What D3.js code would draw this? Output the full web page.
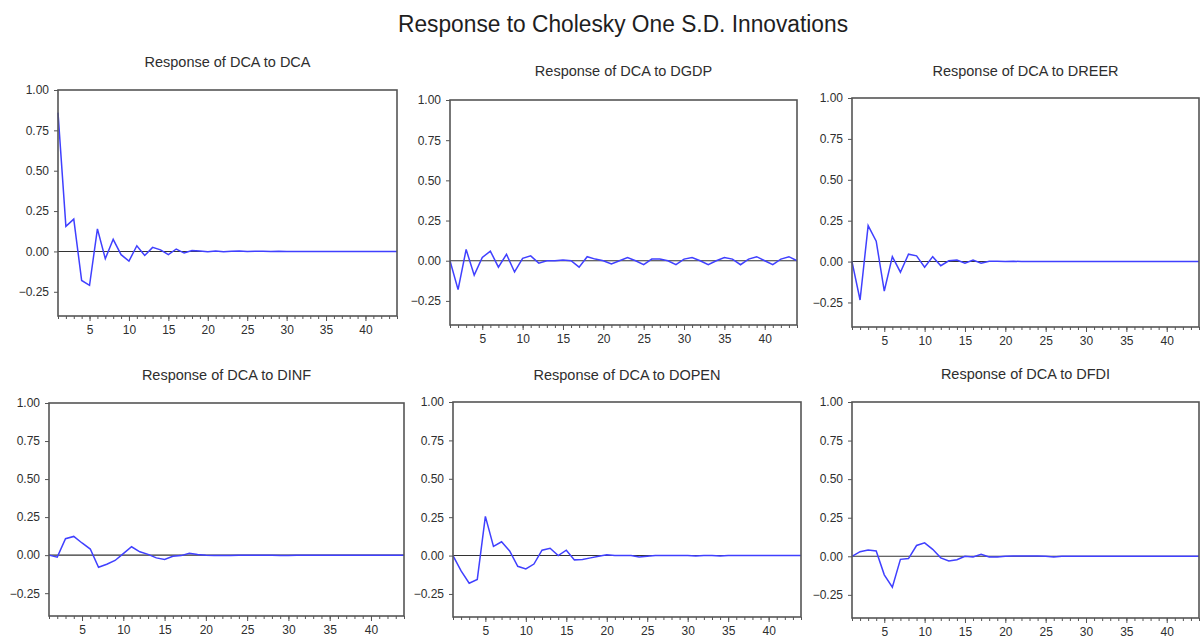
<!DOCTYPE html>
<html>
<head>
<meta charset="utf-8">
<script src="https://cdn.jsdelivr.net/npm/d3@7"></script>
<style>
  body { margin: 0; background: #fff; }
  svg text { font-family: "Liberation Sans", Arial, sans-serif; }
  .box { fill: none; stroke: #555; stroke-width: 1.6; }
  .axis path, .axis line { stroke: #555; }
  .axis text { fill: #2e2e2e; font-size: 12px; }
</style>
</head>
<body>
<script>
// Data
const periods = d3.range(1, 45);
const yTicks = [-0.25, 0, 0.25, 0.5, 0.75, 1.0];
const xLabels = [5, 10, 15, 20, 25, 30, 35, 40];

const titles = [
  'Response of DCA to DCA',
  'Response of DCA to DGDP',
  'Response of DCA to DREER',
  'Response of DCA to DINF',
  'Response of DCA to DOPEN',
  'Response of DCA to DFDI'
];

const toDCA = [0.86, 0.155, 0.20, -0.18, -0.21, 0.14, -0.045, 0.075, -0.02, -0.06,
  0.035, -0.025, 0.025, 0.01, -0.02, 0.015, -0.01, 0.005, 0.003, -0.002,
  0.002, -0.002, 0.001, 0.002, -0.001, 0.001, 0.001, 0, 0.001, 0,
  0, 0, 0, 0, 0, 0, 0, 0, 0, 0, 0, 0, 0, 0];
const toDGDP = [0, -0.18, 0.07, -0.09, 0.02, 0.06, -0.04, 0.04, -0.07, 0.015,
  0.03, -0.015, 0, 0, 0.005, 0, -0.04, 0.025, 0.01, 0,
  -0.02, 0, 0.02, 0, -0.025, 0.01, 0.01, 0, -0.025, 0.01,
  0.02, 0, -0.025, 0, 0.02, 0.01, -0.025, 0.01, 0.025, 0,
  -0.025, 0.01, 0.025, 0];
const toDREER = [0, -0.235, 0.22, 0.125, -0.18, 0.03, -0.065, 0.045, 0.035, -0.035,
  0.03, -0.025, 0.005, 0.01, -0.01, 0.01, -0.01, 0.002, 0.002, 0.001,
  0.002, 0, 0, 0.001, 0, 0, 0.001, 0, 0, 0,
  0, 0, 0, 0, 0, 0, 0, 0, 0, 0, 0, 0, 0, 0];
const toDINF = [0, -0.013, 0.108, 0.123, 0.08, 0.04, -0.08, -0.06, -0.035, 0.01,
  0.055, 0.022, 0.005, -0.018, -0.028, -0.007, -0.003, 0.013, 0.005, 0,
  -0.003, -0.003, -0.003, 0, 0, 0, 0, 0, -0.002, -0.002,
  0, 0, 0, 0, 0, 0, 0, 0, 0, 0, 0, 0, 0, 0];
const toDOPEN = [0, -0.10, -0.18, -0.155, 0.255, 0.06, 0.09, 0.03, -0.07, -0.087,
  -0.055, 0.035, 0.048, 0, 0.035, -0.028, -0.025, -0.015, -0.005, 0.005,
  0, 0, 0, -0.01, -0.005, 0, 0, 0, 0, 0,
  -0.003, 0, 0, -0.003, 0, 0, 0, 0, 0, 0, 0, 0, 0, 0];
const toDFDI = [0, 0.03, 0.04, 0.035, -0.12, -0.20, -0.02, -0.015, 0.07, 0.087,
  0.045, -0.01, -0.03, -0.022, 0, -0.005, 0.013, -0.005, -0.005, 0,
  0.002, 0.002, 0.002, 0.002, 0, -0.004, 0, 0, 0, 0,
  0, 0, 0, 0, 0, 0, 0, 0, 0, 0, 0, 0, 0, 0];

const series = [toDCA, toDGDP, toDREER, toDINF, toDOPEN, toDFDI];

// Layout (plot boxes in page pixels)
const frames = [
  {x0: 58,  x1: 397,  y0: 90,  y1: 316, ty: 67},
  {x0: 450, x1: 797,  y0: 100, y1: 325, ty: 76},
  {x0: 852, x1: 1199, y0: 98,  y1: 327, ty: 76},
  {x0: 49,  x1: 404,  y0: 403, y1: 616, ty: 380},
  {x0: 453, x1: 801,  y0: 402, y1: 617, ty: 380},
  {x0: 852, x1: 1199, y0: 402, y1: 618, ty: 379}
];

const svg = d3.select('body').append('svg')
    .attr('width', 1201)
    .attr('height', 637);

svg.append('text')
    .attr('x', 623)
    .attr('y', 32)
    .attr('text-anchor', 'middle')
    .attr('font-size', 23)
    .attr('fill', '#1e1e1e')
    .attr('textLength', 450)
    .attr('lengthAdjust', 'spacingAndGlyphs')
    .text('Response to Cholesky One S.D. Innovations');

frames.forEach(function(f, i) {
  const x = d3.scaleLinear().domain([1, 44]).range([f.x0, f.x1]);
  const y = d3.scaleLinear().domain([-0.4, 1.0]).range([f.y1, f.y0]);
  const g = svg.append('g');

  g.append('text')
      .attr('x', (f.x0 + f.x1) / 2)
      .attr('y', f.ty)
      .attr('text-anchor', 'middle')
      .attr('font-size', 14.5)
      .attr('fill', '#2e2e2e')
      .text(titles[i]);

  // y axis
  g.append('g')
      .attr('class', 'axis')
      .attr('transform', 'translate(' + f.x0 + ',0)')
      .call(d3.axisLeft(y)
        .tickValues(yTicks)
        .tickSize(4)
        .tickPadding(5)
        .tickFormat(d3.format('.2f')))
    .call(function(a) { a.select('.domain').remove(); });

  // x axis: minor ticks every period, major ticks at labels
  g.append('g')
      .attr('class', 'axis')
      .attr('transform', 'translate(0,' + f.y1 + ')')
      .call(d3.axisBottom(x)
        .tickValues(periods)
        .tickSize(3)
        .tickFormat(''))
    .call(function(a) { a.select('.domain').remove(); });

  g.append('g')
      .attr('class', 'axis')
      .attr('transform', 'translate(0,' + f.y1 + ')')
      .call(d3.axisBottom(x)
        .tickValues(xLabels)
        .tickSize(5)
        .tickPadding(4)
        .tickFormat(d3.format('d')))
    .call(function(a) { a.select('.domain').remove(); });

  // zero line
  g.append('line')
      .attr('x1', f.x0)
      .attr('x2', f.x1)
      .attr('y1', y(0))
      .attr('y2', y(0))
      .attr('stroke', '#333')
      .attr('stroke-width', 1.1);

  const line = d3.line()
      .x(function(d, j) { return x(periods[j]); })
      .y(function(d) { return y(d); });

  g.append('path')
      .datum(series[i])
      .attr('d', line)
      .attr('fill', 'none')
      .attr('stroke', '#4040ff')
      .attr('stroke-width', 1.5);

  g.append('rect')
      .attr('class', 'box')
      .attr('x', f.x0)
      .attr('y', f.y0)
      .attr('width', f.x1 - f.x0)
      .attr('height', f.y1 - f.y0);
});
</script>
</body>
</html>
